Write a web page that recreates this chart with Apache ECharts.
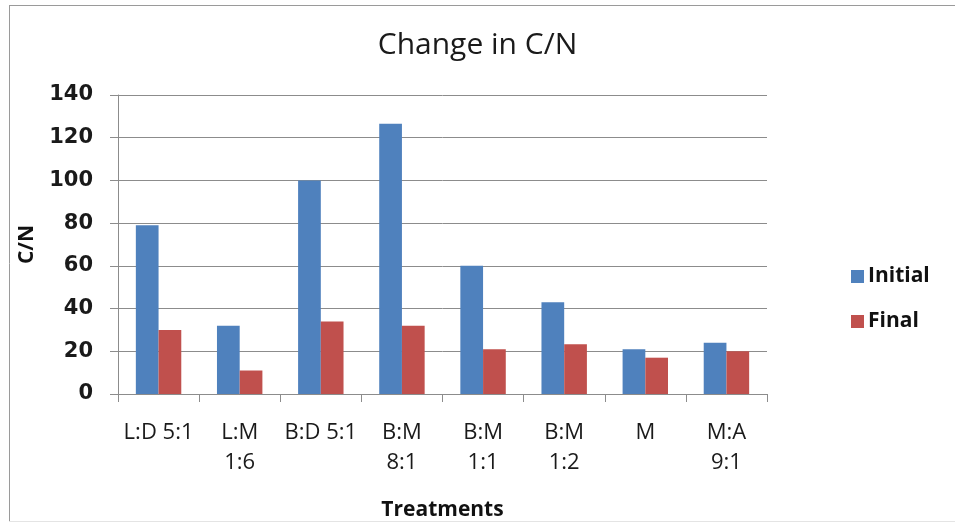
<!DOCTYPE html>
<html>
<head>
<meta charset="utf-8">
<script src="https://cdn.jsdelivr.net/npm/echarts@6/dist/echarts.min.js"></script>
<style>
html,body{margin:0;padding:0;background:#fff;}
#chart{width:955px;height:529px;}
</style>
</head>
<body>
<div id="chart"></div>
<script>
const categories = ['L:D 5:1', 'L:M\n1:6', 'B:D 5:1', 'B:M\n8:1', 'B:M\n1:1', 'B:M\n1:2', 'M', 'M:A\n9:1'];
const initialValues = [79, 32, 100, 126.5, 60, 43, 21, 24];
const finalValues = [30, 11, 34, 32, 21, 23.3, 17, 20];
const yTicks = [0, 20, 40, 60, 80, 100, 120, 140];

const chart = echarts.init(document.getElementById('chart'), null, {renderer: 'canvas'});
chart.setOption({
  animation: false,
  backgroundColor: '#ffffff',
  title: {
    text: 'Change in C/N',
    left: 'center',
    top: 27,
    padding: 0,
    textStyle: {fontFamily: 'Open Sans', fontSize: 30, fontWeight: 'normal', color: '#1a1a1a', lineHeight: 36}
  },
  legend: {
    orient: 'vertical',
    left: 851,
    top: 266,
    padding: 0,
    itemWidth: 13,
    itemHeight: 13,
    itemGap: 24,
    icon: 'rect',
    textStyle: {fontFamily: 'Open Sans', fontSize: 21, fontWeight: 'bold', color: '#111', lineHeight: 21, padding: [0, 0, 0, -1]},
    data: ['Initial', 'Final']
  },
  grid: {left: 118, right: 188, top: 95, bottom: 135, containLabel: false},
  xAxis: {
    type: 'category',
    data: categories,
    name: 'Treatments',
    nameLocation: 'middle',
    nameGap: 105,
    nameTextStyle: {fontFamily: 'Open Sans', fontSize: 21, fontWeight: 'bold', color: '#111', lineHeight: 22},
    axisLine: {show: true, lineStyle: {color: '#8c8c8c', width: 1}},
    axisTick: {show: true, alignWithLabel: false, length: 8, lineStyle: {color: '#8c8c8c'}},
    axisLabel: {fontFamily: 'Open Sans', fontSize: 22, color: '#1a1a1a', lineHeight: 30, margin: 24, interval: 0}
  },
  yAxis: {
    type: 'value',
    min: yTicks[0],
    max: yTicks[yTicks.length - 1],
    interval: yTicks[1] - yTicks[0],
    name: 'C/N',
    nameLocation: 'middle',
    nameGap: 78,
    nameTextStyle: {fontFamily: 'Open Sans', fontSize: 21, fontWeight: 'bold', color: '#111', lineHeight: 22},
    axisLine: {show: true, lineStyle: {color: '#8c8c8c', width: 1}},
    axisTick: {show: true, length: 8, lineStyle: {color: '#8c8c8c'}},
    axisLabel: {fontFamily: 'DejaVu Sans', fontSize: 21, fontWeight: 'bold', color: '#1a1a1a', margin: 25},
    splitLine: {show: true, lineStyle: {color: '#8c8c8c', width: 1}}
  },
  series: [
    {name: 'Initial', type: 'bar', data: initialValues, barGap: '0%', barCategoryGap: '44%', itemStyle: {color: '#4f81bd'}},
    {name: 'Final', type: 'bar', data: finalValues, barGap: '0%', barCategoryGap: '44%', itemStyle: {color: '#c0504d'}}
  ],
  graphic: [
    {type: 'line', shape: {x1: 9.5, y1: 5, x2: 9.5, y2: 522}, style: {stroke: '#9a9a9a', lineWidth: 1}},
    {type: 'line', shape: {x1: 9, y1: 5.5, x2: 955, y2: 5.5}, style: {stroke: '#9a9a9a', lineWidth: 1}},
    {type: 'line', shape: {x1: 9, y1: 521.5, x2: 955, y2: 521.5}, style: {stroke: '#e4e4e4', lineWidth: 1}}
  ]
});
</script>
</body>
</html>
